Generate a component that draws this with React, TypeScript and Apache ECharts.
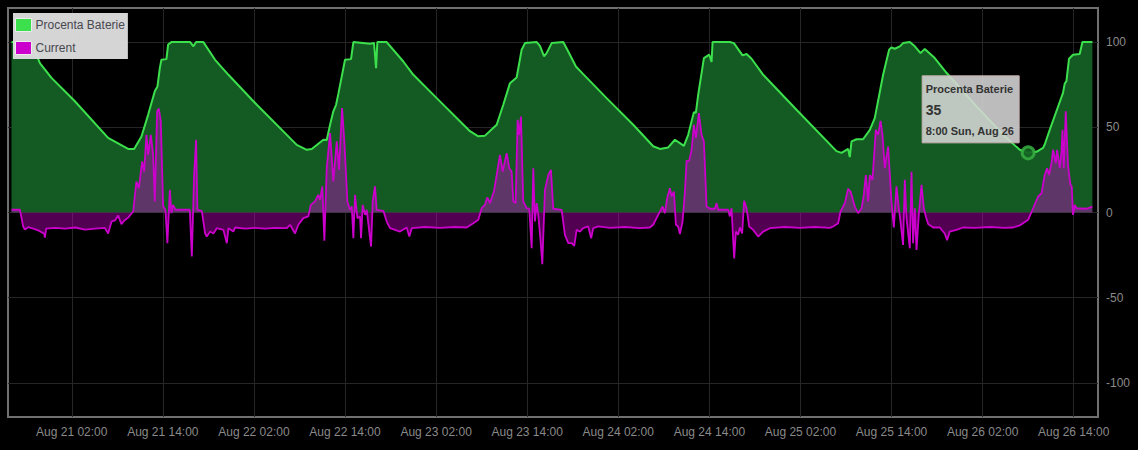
import React, { useEffect, useRef } from "react";
import * as echarts from "echarts";

// hour 0 = Aug 21 2018 00:00 (UTC used for formatting)
const BASE_DATE_UTC = Date.UTC(2018, 7, 21, 0, 0, 0);
const MONTHS = ["Jan", "Feb", "Mar", "Apr", "May", "Jun", "Jul", "Aug", "Sep", "Oct", "Nov", "Dec"];
const WEEKDAYS = ["Sun", "Mon", "Tue", "Wed", "Thu", "Fri", "Sat"];

const X_TICKS = [2, 14, 26, 38, 50, 62, 74, 86, 98, 110, 122, 134];
const Y_TICKS = [-100, -50, 0, 50, 100];
const SERIES_NAMES = ["Procenta Baterie", "Current"];
const HOVER_HOUR = 128;

const batteryHours = [
  -5.94, -3.31, -2.2, -0.67, 2.41, 6.79, 8.77, 9.43, 10.22, 11.18, 12.06, 12.94, 13.29, 13.6, 13.81, 14.47,
  14.7, 15.13, 17.6, 18.03, 18.38, 19.34, 20.88, 22.64, 26.38, 31.64, 32.96, 33.62, 35.15, 35.59, 36.03,
  36.46, 36.82, 37.12, 38.0, 38.79, 39.1, 41.3, 41.82, 42.09, 42.26, 43.49, 45.68, 47.0, 50.08, 54.46,
  55.56, 56.44, 57.98, 58.85, 59.73, 60.61, 61.27, 61.71, 63.25, 63.68, 64.21, 64.56, 65.22, 66.75, 67.41,
  68.42, 69.38, 72.46, 75.97, 78.6, 79.48, 80.58, 81.46, 82.12, 82.64, 83.21, 83.96, 84.22, 84.53, 85.28,
  85.98, 86.29, 86.42, 88.7, 89.23, 90.37, 90.9, 91.56, 93.09, 97.48, 102.75, 103.41, 104.28, 104.5,
  104.73, 105.38, 106.25, 107.14, 107.79, 108.89, 109.68, 109.99, 110.43, 111.09, 111.52, 112.41, 113.07,
  113.82, 114.38, 115.69, 117.24, 121.19, 125.14, 126.89, 128, 129.09, 129.96, 130.18, 130.84, 131.72,
  132.59, 132.81, 133.04, 133.38, 133.91, 134.79, 135.15, 136.46,
];
const batteryValues = [
  100, 100, 87.6, 79, 65.3, 43.8, 38.9, 37.3, 37.3, 44.6, 57.3, 71.2, 74, 84.7, 89.6, 90,
  98.6, 100, 100, 97.5, 100, 100, 89.6, 80.8, 63.2, 39.7, 36.8, 37.3, 42.7, 42.5, 51.5,
  59.4, 63.2, 69.6, 89.6, 90, 100, 99, 99.5, 84.7, 100, 100, 88.6, 80.8, 67.1, 47.7,
  44.7, 45.1, 51.5, 63.2, 75.9, 79.2, 95.5, 99.4, 100, 97.8, 91.7, 93.5, 99.4, 100, 94.5,
  85.7, 81.2, 67.1, 51.5, 38.9, 37.3, 38.2, 42.7, 40.7, 39.1, 45.6, 58.9, 58.5, 69.1, 90.6,
  92.6, 88.3, 100, 100, 99.4, 92.2, 93, 90.2, 80.8, 60.3, 36, 35, 37.3, 32.5,
  41.7, 43, 43, 48.5, 55.4, 80.8, 95.5, 96.9, 96.1, 97.5, 99.4, 100, 97.5,
  93.5, 96, 90.6, 82, 62.3, 43.8, 36.8, 35, 35.6, 37.9, 39.9, 48.5, 59.4,
  70.2, 75.5, 77.1, 90.2, 92.6, 93, 100, 100,
];

const currentHours = [
  -5.94, -4.83, -4.4, -4.17, -3.74, -3.08, -2.42, -1.63, -1.54, -1.37, -0.18, 1.13, 2.45, 3.77, 5.08, 6.36,
  6.79, 7.23, 7.72, 8.11, 8.55, 8.9, 9.43, 10.09, 10.52, 10.84, 11.27, 11.54, 11.84, 12.06, 12.42, 12.72,
  12.94, 13.25, 13.47, 13.73, 14.04, 14.34, 14.6, 14.92, 15.13, 15.35, 15.66, 17.55, 17.82, 18.12, 18.38,
  18.55, 19.13, 19.57, 19.79, 20.23, 20.66, 21.11, 21.98, 22.43, 22.64, 23.29, 23.52, 24.84, 26.15, 27.47,
  28.79, 30.33, 30.76, 31.42, 31.85, 32.51, 33.17, 33.49, 34.05, 34.49, 34.71, 35.01, 35.28, 35.59, 36.03,
  36.46, 36.91, 37.21, 37.61, 37.91, 38.31, 38.66, 38.89, 39.1, 39.32, 39.63, 39.98, 40.11, 40.33, 40.64,
  40.86, 41.43, 41.65, 41.95, 42.17, 43.05, 43.49, 43.93, 45.24, 46.13, 46.47, 46.79, 48.54, 50.51, 52.49,
  54.03, 54.9, 55.56, 56.0, 56.44, 56.74, 57.1, 57.62, 57.98, 58.41, 58.77, 59.3, 59.64, 59.95, 60.17,
  60.48, 60.74, 60.95, 61.18, 61.48, 61.93, 62.27, 62.59, 62.8, 63.02, 63.25, 63.46, 63.77, 63.99, 64.34,
  64.78, 65.13, 65.43, 66.54, 66.97, 67.41, 67.86, 68.2, 68.51, 68.95, 69.38, 70.04, 70.43, 70.7, 71.36,
  72.9, 74.87, 76.85, 78.16, 78.6, 79.26, 79.84, 80.14, 80.44, 80.8, 81.02, 81.33, 81.59, 81.89, 82.12,
  82.47, 82.78, 83.0, 83.34, 83.66, 83.96, 84.22, 84.62, 84.97, 85.28, 85.63, 86.07, 86.73, 86.95, 87.16,
  88.48, 88.7, 88.92, 89.27, 89.49, 89.79, 90.02, 90.32, 90.58, 90.9, 91.24, 91.77, 92.43, 93.09, 93.97,
  95.95, 97.92, 99.9, 101.87, 102.31, 102.97, 103.28, 103.85, 104.28, 104.6, 105.16, 105.6, 106.05,
  106.35, 106.61, 106.92, 107.14, 107.49, 107.93, 108.23, 108.55, 108.81, 109.11, 109.55, 109.99, 110.3,
  110.65, 110.96, 111.18, 111.52, 111.75, 111.97, 112.41, 112.63, 112.84, 113.07, 113.29, 113.59, 113.95,
  114.25, 114.52, 114.82, 115.48, 116.35, 117.01, 117.32, 117.67, 118.55, 119.42, 120.96, 122.94, 124.91,
  126.01, 126.89, 128.0, 128.65, 129.31, 129.76, 130.18, 130.49, 130.75, 131.07, 131.28, 131.64, 131.81,
  132.17, 132.39, 132.52, 132.69, 132.95, 133.26, 133.57, 133.74, 133.91, 134.14, 134.36, 135.68, 136.46,
];
const currentValues = [
  1.6, 1.6, -8.2, -10, -8.6, -9.5, -10.5, -12.5, -14.7, -9.5, -9, -9.5, -8.8, -10, -9.5, -9,
  -12.3, -5.4, -4.5, -1.8, -6.8, -4.8, -3, 0.6, 18.2, 14.3, 30, 24, 45.6, 33.8, 45.6, 33.8,
  6.5, 59.4, 61, 53.4, 3.5, 1.6, -18, 13.3, -0.4, 4.5, 1.6, 1.6, -25.8, 22, 42.7,
  1.6, 1, -12.3, -14.1, -11.2, -12.3, -9.2, -10.2, -18, -9.2, -11.2, -8.8, -9.5, -9, -9.5,
  -9, -9.2, -7.2, -12.3, -7.2, -3.3, -2.3, 4.5, 6.5, 10.4, 7.4, 15.3, -16.6, 26, 46.6,
  18.2, 41.7, 25.1, 61.3, 41.7, 6.5, 1.6, 3.5, -15.1, 10.4, -3.3, -2.3, -15.1, 4.5, -1.4,
  1.6, -20, 6.5, 15.3, 1.6, 1, -5.3, -9.2, -11.2, -8.8, -14.1, -9.2, -8.5, -9, -8.5,
  -8.8, -6.3, -4.3, 2.5, 4.5, 8.8, 5.5, 12.3, 22, 33.8, 24, 34.8, 26, 24, 6.5,
  5.5, 54.4, 45.6, 56.3, 6.5, 2.5, 2.2, -21, 26, -5.3, 5.5, -1.4, -17, -30.3, 13.3,
  22, 25, 2.2, 1.6, -13.1, -18, -18, -19.6, -10.2, -11.2, -9.2, -8.2, -15.1, -9.2, -8.2,
  -9, -8.5, -9.2, -8.8, -7.2, -1.4, 3.5, -0.4, 8.4, 14.3, 9.4, 12.3, -7.2, -8.2, -12.7,
  -5.3, 12.3, 30.3, 30.3, 36.8, 51.5, 43.6, 58.3, 45.6, 41.7, 3.5, 2.2, 2.2, 5.5, 1.6,
  1.6, -2.3, 2.5, -27, -11.2, -13.1, -8.8, -12.3, 6.9, 2.5, -8.2, -10.2, -14.1, -11.2, -9.2,
  -8.5, -9, -8.5, -9, -8.2, -6.3, 0.6, 5.5, 13.9, 12.3, 3.5, -0.4, 2.5,
  10.4, 22, 6.5, 22, 19.2, 48.5, 45.6, 53.8, 45.6, 26, 38.7, 6.5, -8.8,
  15.3, 2.5, -5.3, -19, 19.2, -3.3, -21, 23.9, -18, 2.5, -22, -1.4, 16.2,
  2.5, -2.3, -6.8, -8.8, -8.8, -12.3, -16.2, -11.2, -10.2, -8.8, -9, -8.5, -9,
  -8.8, -7.6, -4.3, 2.5, 9.4, 11.3, 22, 26, 22, 28.9, 36.8, 28.9, 36.8,
  26, 35.8, 48.5, 26, 59.4, 27, 16.2, 15.3, -1.4, 4.5, 2.5, 2.2, 3.5,
];

const FONT = "'Liberation Sans', Arial, Helvetica, sans-serif";

function hourDate(h: number) {
  return new Date(BASE_DATE_UTC + h * 3600 * 1000);
}
function pad2(n: number) {
  return n < 10 ? "0" + n : String(n);
}
function xLabel(v: number) {
  const d = hourDate(v);
  return `${MONTHS[d.getUTCMonth()]} ${d.getUTCDate()} ${pad2(d.getUTCHours())}:${pad2(d.getUTCMinutes())}`;
}
function tooltipDate(v: number) {
  const d = hourDate(v);
  return `${d.getUTCHours()}:${pad2(d.getUTCMinutes())} ${WEEKDAYS[d.getUTCDay()]}, ${MONTHS[d.getUTCMonth()]} ${d.getUTCDate()}`;
}

export default function App() {
  const ref = useRef<HTMLDivElement>(null);

  useEffect(() => {
    document.body.style.margin = "0";
    document.body.style.background = "#000";
    if (!ref.current) return;
    const chart = echarts.init(ref.current, undefined, { renderer: "svg" });

    const battery = batteryHours.map((h, i) => [h, batteryValues[i]]);
    const current = currentHours.map((h, i) => [h, currentValues[i]]);
    const hoverIdx = batteryHours.indexOf(HOVER_HOUR);
    const hoverVal = batteryValues[hoverIdx];

    chart.setOption({
      animation: false,
      backgroundColor: "#000",
      textStyle: { fontFamily: FONT },
      grid: {
        left: 8,
        right: 40,
        top: 8,
        bottom: 33,
        show: true,
        borderColor: "#707070",
        borderWidth: 2,
        containLabel: false,
        outerBoundsMode: "none",
      },
      legend: {
        orient: "vertical",
        left: 13,
        top: 13,
        padding: [5, 3, 4, 2],
        itemGap: 9,
        itemWidth: 16,
        itemHeight: 13,
        icon: "rect",
        backgroundColor: "rgba(222,222,222,0.96)",
        textStyle: { color: "#484850", fontSize: 12, fontFamily: FONT, padding: [0, 0, 0, -1] },
        itemStyle: { borderColor: "#ececec", borderWidth: 1 },
        data: SERIES_NAMES,
      },
      xAxis: {
        type: "value",
        min: -6.4,
        max: 137.2,
        axisLine: { show: false },
        axisTick: { show: false, customValues: X_TICKS },
        axisLabel: {
          customValues: X_TICKS,
          formatter: (v: number) => xLabel(v),
          color: "#8a8a8a",
          fontSize: 12,
          fontFamily: FONT,
          margin: 9,
        },
        splitLine: { show: true, lineStyle: { color: "#262626", width: 1 } },
      },
      yAxis: {
        type: "value",
        position: "right",
        min: -120,
        max: 120,
        axisLine: { show: false },
        axisTick: { show: false, customValues: Y_TICKS },
        axisLabel: {
          customValues: Y_TICKS,
          color: "#8a8a8a",
          fontSize: 12,
          fontFamily: FONT,
          margin: 8,
        },
        splitLine: { show: true, lineStyle: { color: "#262626", width: 1 } },
      },
      series: [
        {
          name: SERIES_NAMES[0],
          type: "line",
          data: battery,
          color: "#3ce04c",
          symbol: "none",
          showSymbol: false,
          lineStyle: { color: "#3ce04c", width: 2 },
          areaStyle: { color: "#145a23", opacity: 1 },
          z: 2,
          markPoint: {
            silent: true,
            symbol: "circle",
            symbolSize: 12,
            label: { show: false },
            itemStyle: { color: "rgba(20,100,35,0.9)", borderColor: "rgba(55,175,65,0.85)", borderWidth: 3 },
            data: [{ coord: [HOVER_HOUR, hoverVal] }],
            z: 5,
          },
        },
        {
          name: SERIES_NAMES[1],
          type: "line",
          data: current,
          color: "#cc00cc",
          symbol: "none",
          showSymbol: false,
          lineStyle: { color: "#cc00cc", width: 1.8 },
          areaStyle: { color: "#cc00cc", opacity: 0.4 },
          z: 3,
        },
      ],
    });

    const p = chart.convertToPixel({ xAxisIndex: 0, yAxisIndex: 0 }, [HOVER_HOUR, hoverVal]) as number[];
    if (p && isFinite(p[0])) {
      const bx = p[0] - 106;
      const by = p[1] - 77;
      const textBase = { fill: "#333", verticalAlign: "middle" };
      chart.setOption({
        graphic: [
          {
            type: "rect",
            z: 100,
            zlevel: 1,
            silent: true,
            shape: { x: bx, y: by, width: 97, height: 67 },
            style: { fill: "rgba(214,214,214,0.88)", stroke: "#c7b0b0", lineWidth: 1 },
          },
          {
            type: "text",
            z: 101,
            zlevel: 1,
            silent: true,
            x: bx + 3.5,
            y: by + 13,
            style: { ...textBase, text: SERIES_NAMES[0], font: `bold 11px ${FONT}` },
          },
          {
            type: "text",
            z: 101,
            zlevel: 1,
            silent: true,
            x: bx + 3.5,
            y: by + 34,
            style: { ...textBase, text: String(hoverVal), font: `bold 14px ${FONT}` },
          },
          {
            type: "text",
            z: 101,
            zlevel: 1,
            silent: true,
            x: bx + 3.5,
            y: by + 55.5,
            style: { ...textBase, text: tooltipDate(HOVER_HOUR), font: `bold 11px ${FONT}` },
          },
        ],
      });
    }

    return () => {
      chart.dispose();
    };
  }, []);

  return <div ref={ref} style={{ width: 1138, height: 450, background: "#000" }} />;
}
